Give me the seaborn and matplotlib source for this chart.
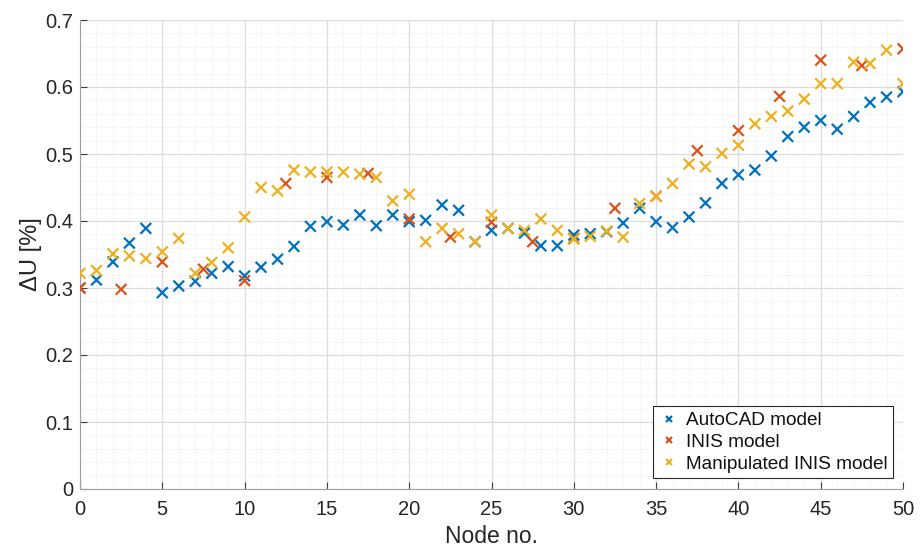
import numpy as np
import pandas as pd
import matplotlib
matplotlib.use("Agg")
import matplotlib.pyplot as plt
import seaborn as sns
from matplotlib.ticker import MultipleLocator

# ---- data ----
autocad_nodes = list(range(0, 51))
autocad_vals = [0.300, 0.312, 0.339, 0.367, 0.389, 0.293, 0.303, 0.310, 0.322, 0.332,
                0.318, 0.331, 0.343, 0.362, 0.392, 0.399, 0.394, 0.409, 0.393, 0.409,
                0.399, 0.401, 0.424, 0.416, 0.369, 0.386, 0.389, 0.382, 0.363, 0.363,
                0.379, 0.381, 0.384, 0.397, 0.419, 0.399, 0.390, 0.406, 0.427, 0.456,
                0.469, 0.476, 0.497, 0.526, 0.540, 0.550, 0.537, 0.556, 0.577, 0.585,
                0.593]

inis_nodes = [0, 2.5, 5, 7.5, 10, 12.5, 15, 17.5, 20, 22.5, 25, 27.5, 30, 32.5, 35,
              37.5, 40, 42.5, 45, 47.5, 50]
inis_vals = [0.300, 0.298, 0.339, 0.328, 0.311, 0.456, 0.465, 0.471, 0.403, 0.376,
             0.398, 0.369, 0.374, 0.419, 0.437, 0.505, 0.535, 0.586, 0.640, 0.632,
             0.657]

manip_nodes = list(range(0, 51))
manip_vals = [0.322, 0.326, 0.351, 0.348, 0.344, 0.354, 0.374, 0.322, 0.338, 0.360,
              0.406, 0.450, 0.445, 0.476, 0.473, 0.473, 0.473, 0.470, 0.465, 0.430,
              0.440, 0.369, 0.389, 0.381, 0.369, 0.409, 0.389, 0.386, 0.403, 0.386,
              0.373, 0.377, 0.385, 0.376, 0.426, 0.437, 0.456, 0.485, 0.481, 0.501,
              0.513, 0.545, 0.556, 0.564, 0.582, 0.605, 0.605, 0.637, 0.635, 0.655,
              0.605]

series_names = ["AutoCAD model", "INIS model", "Manipulated INIS model"]
colors = ["#0072BD", "#D95319", "#EDB120"]

df = pd.concat([
    pd.DataFrame({"node": autocad_nodes, "du": autocad_vals, "model": series_names[0]}),
    pd.DataFrame({"node": inis_nodes, "du": inis_vals, "model": series_names[1]}),
    pd.DataFrame({"node": manip_nodes, "du": manip_vals, "model": series_names[2]}),
], ignore_index=True)

# ---- style ----
sns.set_theme(style="white")
plt.rcParams["font.family"] = ["Liberation Sans", "DejaVu Sans"]

fig = plt.figure(figsize=(9.21, 5.51), dpi=100)
ax = fig.add_axes([80 / 921, 1 - 489 / 551, 823 / 921, 469 / 551])

sns.scatterplot(data=df, x="node", y="du", hue="model", hue_order=series_names,
                palette=colors, marker="x", s=60, linewidth=1.6, ax=ax, zorder=3)

ax.set_xlim(0, 50)
ax.set_ylim(0, 0.7)
ax.xaxis.set_major_locator(MultipleLocator(5))
ax.xaxis.set_minor_locator(MultipleLocator(1))
ax.yaxis.set_minor_locator(MultipleLocator(0.02))
ax.set_yticks(np.round(np.arange(0, 0.71, 0.1), 2))
ax.set_yticklabels([f"{v:g}" for v in np.round(np.arange(0, 0.71, 0.1), 2)])

ax.grid(which="major", color="#dcdcdc", linewidth=0.9, linestyle="-")
ax.grid(which="minor", color="#e8e8e8", linewidth=0.7, linestyle=":")
ax.set_axisbelow(True)

for side in ["left", "bottom"]:
    ax.spines[side].set_color("#a0a0a0")
    ax.spines[side].set_linewidth(0.8)
for side in ["top", "right"]:
    ax.spines[side].set_visible(False)

ax.tick_params(which="major", direction="in", length=5, width=0.8, color="#404040",
               labelsize=14.5, labelcolor="#262626", left=True, bottom=True, pad=5)
ax.tick_params(axis="x", which="major", pad=8)
ax.tick_params(which="minor", length=0)

ax.set_xlabel("Node no.", fontsize=16.5, color="#262626", labelpad=4)
ax.set_ylabel("ΔU [%]", fontsize=17, color="#262626", labelpad=2)

leg = ax.legend(loc="lower right", bbox_to_anchor=(0.988, 0.023), borderaxespad=0,
                frameon=True, fancybox=False, framealpha=1, fontsize=13.7,
                markerscale=0.55, handletextpad=0.4, borderpad=0.3,
                labelspacing=0.22, handlelength=1.0)
leg.get_frame().set_edgecolor("#262626")
leg.get_frame().set_linewidth(0.8)
for t in leg.get_texts():
    t.set_color("#111111")

fig.savefig("out.png", dpi=100)
